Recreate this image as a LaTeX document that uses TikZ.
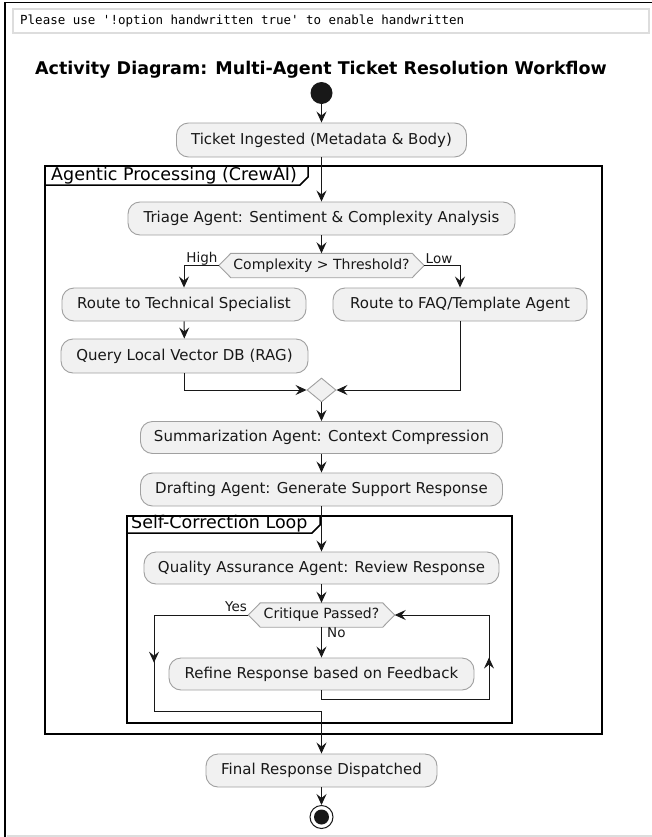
\documentclass[tikz,border=0pt]{standalone}
\usepackage{fontspec}
\setmainfont{DejaVu Sans}
\newfontfamily\notemono{DejaVu Sans Mono}
\usetikzlibrary{arrows.meta,shapes.geometric,decorations.markings,backgrounds}
\definecolor{boxfill}{HTML}{F1F1F1}
\definecolor{boxline}{HTML}{A0A0A0}
\definecolor{ink}{HTML}{181818}
\definecolor{notegray}{HTML}{DDDDDD}
\begin{document}
\begin{tikzpicture}[x=1bp,y=-1bp,
  act/.style={draw=boxline, fill=boxfill, rounded corners=12bp, line width=0.9bp,
    minimum height=33bp, inner sep=0pt, font=\fontsize{15bp}{18bp}\selectfont, text=ink},
  hexlabel/.style={inner sep=0pt, minimum height=24bp, font=\fontsize{14bp}{17bp}\selectfont, text=ink},
  hexshape/.style={draw=boxline, fill=boxfill, line width=0.9bp},
  flow/.style={draw=ink, line width=1bp, -{Stealth[length=11bp,width=10bp,inset=4bp]}},
  midarrow/.style={postaction={decorate}, decoration={markings,
    mark=at position #1 with {\arrow[ink]{Stealth[length=11bp,width=10bp,inset=4bp]}}}},
  guard/.style={inner sep=0pt, font=\fontsize{13.5bp}{16bp}\selectfont, text=ink},
  framebox/.style={draw=black, line width=1.5bp},
  frametitle/.style={inner sep=0pt, anchor=west, font=\fontsize{17.5bp}{20bp}\selectfont, text=black},
  startdot/.style={circle, fill=ink, minimum size=22bp, inner sep=0pt},
  enddot/.style={circle, draw=ink, fill=white, line width=1bp, minimum size=23bp, inner sep=0pt},
  mergediamond/.style={diamond, draw=boxline, fill=boxfill, line width=0.9bp, minimum width=29bp, minimum height=24bp, inner sep=0pt}
]
\useasboundingbox (0,0) rectangle (652,837);

% page border
\draw[black, line width=1.5bp] (5,2.5) -- (652,2.5);
\draw[black, line width=2.5bp] (5,2) -- (5,837);
\draw[notegray, line width=1.5bp] (6.5,836) -- (652,836);

% note
\node[draw=notegray, fill=white, line width=2.5bp, minimum width=636bp, minimum height=24bp, inner sep=0pt] (note) at (331,21) {};
\node[anchor=west, inner sep=0pt, font=\notemono\fontsize{12.5bp}{15bp}\selectfont, text=black] (notetext) at (20,21) {Please use '!option handwritten true' to enable handwritten};

% title
\node[inner sep=0pt, font=\bfseries\fontsize{17.5bp}{20bp}\selectfont, text=black] (title) at (321,70) {Activity Diagram: Multi-Agent Ticket Resolution Workflow};

% frames
\draw[framebox] (45,166) rectangle (602,734);
\draw[framebox] (45,185) -- (300,185) -- (308,177) -- (308,166);
\node[frametitle] (ftitle1) at (51,175.5) {Agentic Processing (CrewAI)};
\draw[framebox] (127,516) rectangle (512,723);
\draw[framebox] (127,533) -- (312,533) -- (320,525) -- (320,516);
\node[frametitle] (ftitle2) at (131,524) {Self-Correction Loop};

% nodes
\node[startdot] (start) at (321.5,93) {};
\node[act, minimum width=290bp, minimum height=34bp] (ticket) at (321.5,140) {Ticket Ingested (Metadata \& Body)};
\node[act, minimum width=387bp] (triage) at (321.5,218.5) {Triage Agent: Sentiment \& Complexity Analysis};
\node[hexlabel, minimum width=205bp] (h1) at (321.5,265.5) {Complexity > Threshold?};
\node[act, minimum width=244bp] (tech) at (184,304.5) {Route to Technical Specialist};
\node[act, minimum width=254bp] (faq) at (460,304.5) {Route to FAQ/Template Agent};
\node[act, minimum width=247bp, minimum height=34bp] (query) at (184.5,356) {Query Local Vector DB (RAG)};
\node[mergediamond] (merge) at (321.5,390) {};
\node[act, minimum width=362bp, minimum height=32bp] (summ) at (321.5,437.5) {Summarization Agent: Context Compression};
\node[act, minimum width=362bp] (draft) at (321.5,489.5) {Drafting Agent: Generate Support Response};
\node[act, minimum width=355bp, minimum height=32bp] (qa) at (321.5,568) {Quality Assurance Agent: Review Response};
\node[hexlabel, minimum width=146bp] (h2) at (321.5,615) {Critique Passed?};
\node[act, minimum width=305bp, minimum height=32bp] (refine) at (321.5,674) {Refine Response based on Feedback};
\node[act, minimum width=231bp] (final) at (321.5,770.5) {Final Response Dispatched};
\node[enddot] (endc) at (321.5,817) {};
\fill[ink] (endc.center) circle (7.5bp);

% hexagon outlines
\begin{scope}[on background layer]
\foreach \h in {h1,h2}{
  \draw[hexshape] (\h.west) -- ([xshift=12bp]\h.north west) -- ([xshift=-12bp]\h.north east)
    -- (\h.east) -- ([xshift=-12bp]\h.south east) -- ([xshift=12bp]\h.south west) -- cycle;
}
\end{scope}

% coordinates
\coordinate (yl) at (154,711);
\coordinate (jn) at (321.5,711);
\coordinate (lb) at (321.5,699);
\coordinate (lr) at (489,615);

% connectors
\draw[flow] (start) -- (ticket);
\draw[flow] (ticket) -- (triage);
\draw[flow] (triage) -- (h1);
\draw[flow] (h1.west) -| (tech.north);
\draw[flow] (h1.east) -| (faq.north);
\draw[flow] (tech) -- (query);
\draw[flow] (query.south) |- (merge.west);
\draw[flow] (faq.south) |- (merge.east);
\draw[flow] (merge) -- (summ);
\draw[flow] (summ) -- (draft);
\draw[flow] (draft) -- (qa);
\draw[flow] (qa) -- (h2);
\draw[flow] (h2) -- (refine);
\draw[flow, midarrow=142bp] (h2.west) -| (yl) -- (jn) -- (final.north);
\draw[flow, midarrow=217.5bp] (refine.south) -- (lb) -| (lr) -- (h2.east);
\draw[flow] (final) -- (endc);

% guards
\node[guard] (lhigh) at (202,259) {High};
\node[guard] (llow) at (439,259) {Low};
\node[guard] (lyes) at (236,607) {Yes};
\node[guard, anchor=west] (lno) at (327,633) {No};
\end{tikzpicture}
\end{document}
